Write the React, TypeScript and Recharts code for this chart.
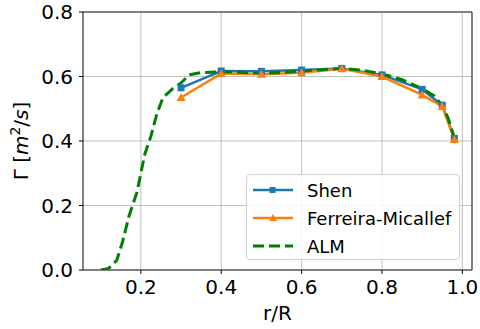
import {
  LineChart,
  Line,
  XAxis,
  YAxis,
  CartesianGrid,
  ReferenceArea,
  Legend,
} from "recharts";

const shenR = [0.3, 0.4, 0.5, 0.6, 0.7, 0.8, 0.9, 0.95, 0.98];
const shenGamma = [0.565, 0.617, 0.616, 0.62, 0.625, 0.605, 0.56, 0.511, 0.408];

const fmR = [0.3, 0.4, 0.5, 0.6, 0.7, 0.8, 0.9, 0.95, 0.98];
const fmGamma = [0.535, 0.609, 0.607, 0.612, 0.624, 0.6, 0.543, 0.507, 0.405];

const almR = [
  0.1, 0.12, 0.14, 0.155, 0.17, 0.19, 0.2, 0.21, 0.225, 0.24, 0.255, 0.28, 0.3,
  0.32, 0.35, 0.4, 0.45, 0.5, 0.55, 0.6, 0.65, 0.7, 0.75, 0.8, 0.85, 0.9, 0.93,
  0.95, 0.965, 0.98,
];
const almGamma = [
  0.0, 0.005, 0.03, 0.09, 0.165, 0.24, 0.3, 0.36, 0.415, 0.485, 0.535, 0.563,
  0.58, 0.605, 0.612, 0.615, 0.613, 0.61, 0.612, 0.617, 0.621, 0.625, 0.62,
  0.608, 0.59, 0.562, 0.54, 0.51, 0.47, 0.41,
];

const xTicks = [0.2, 0.4, 0.6, 0.8, 1.0];
const yTicks = [0.0, 0.2, 0.4, 0.6, 0.8];

const FONT = "DejaVu Sans";
const BLUE = "#1f77b4";
const ORANGE = "#ff7f0e";
const GREEN = "#008000";

const toPoints = (xs: number[], ys: number[]) =>
  xs.map((r, i) => ({ r, g: ys[i] }));

const SquareDot = (props: any) => {
  const { cx, cy, index } = props;
  if (cx == null || cy == null) return <g key={index} />;
  return <rect key={index} x={cx - 3.5} y={cy - 3.5} width={7} height={7} fill={BLUE} />;
};

const TriangleDot = (props: any) => {
  const { cx, cy, index } = props;
  if (cx == null || cy == null) return <g key={index} />;
  return (
    <polygon
      key={index}
      points={`${cx},${cy - 4.5} ${cx - 4.5},${cy + 3.5} ${cx + 4.5},${cy + 3.5}`}
      fill={ORANGE}
    />
  );
};

const legendItems = [
  { name: "Shen", color: BLUE, kind: "square" },
  { name: "Ferreira-Micallef", color: ORANGE, kind: "triangle" },
  { name: "ALM", color: GREEN, kind: "dash" },
];

const LegendBox = () => (
  <div
    style={{
      width: 214,
      height: 86,
      border: "1px solid #d0d0d0",
      borderRadius: 4,
      background: "rgba(255,255,255,0.85)",
      boxSizing: "border-box",
      paddingTop: 1,
      fontFamily: FONT,
      fontSize: 18,
      color: "#000",
    }}
  >
    {legendItems.map((it) => (
      <div
        key={it.name}
        style={{ height: 28, display: "flex", alignItems: "center" }}
      >
        <svg width={60} height={28} style={{ flex: "none" }}>
          {it.kind === "dash" ? (
            <line
              x1={6}
              x2={46}
              y1={14}
              y2={14}
              stroke={it.color}
              strokeWidth={3}
              strokeDasharray="11 5"
            />
          ) : (
            <line x1={6} x2={46} y1={14} y2={14} stroke={it.color} strokeWidth={2.5} />
          )}
          {it.kind === "square" && (
            <rect x={22.5} y={11} width={6} height={6} fill={it.color} />
          )}
          {it.kind === "triangle" && (
            <polygon points="26,10 22,17 30,17" fill={it.color} />
          )}
        </svg>
        <span style={{ whiteSpace: "nowrap" }}>{it.name}</span>
      </div>
    ))}
  </div>
);

const YLabel = () => (
  <text
    x={28}
    y={141}
    transform="rotate(-90, 28, 141)"
    textAnchor="middle"
    fontFamily={FONT}
    fontSize={20}
    fill="#000"
  >
    Γ [<tspan fontStyle="italic">m</tspan>
    <tspan dy={-8} fontSize={14}>2</tspan>
    <tspan dy={8}>/</tspan>
    <tspan fontStyle="italic">s</tspan>]
  </text>
);

const XLabel = (props: any) => {
  const { viewBox } = props;
  return (
    <text
      x={viewBox.x + viewBox.width / 2}
      y={viewBox.y + 50}
      textAnchor="middle"
      fontFamily={FONT}
      fontSize={20}
      fill="#000"
    >
      r/R
    </text>
  );
};

export default function App() {
  return (
    <div style={{ position: "absolute", left: 0, top: 0, background: "#fff" }}>
      <LineChart
        width={480}
        height={329}
        margin={{ top: 12, right: 8, bottom: 0, left: 0 }}
      >
        <CartesianGrid stroke="#b0b0b0" strokeWidth={0.8} />
        <XAxis
          type="number"
          dataKey="r"
          domain={[0.056, 1.024]}
          ticks={xTicks}
          tickFormatter={(v: number) => v.toFixed(1)}
          allowDataOverflow
          height={59}
          axisLine={false}
          tickLine={{ stroke: "#000" }}
          tickSize={4}
          tickMargin={6}
          tick={{ fontFamily: FONT, fontSize: 20, fill: "#000" }}
          label={<XLabel />}
        />
        <YAxis
          type="number"
          dataKey="g"
          domain={[0, 0.8]}
          ticks={yTicks}
          tickFormatter={(v: number) => v.toFixed(1)}
          allowDataOverflow
          width={83}
          axisLine={false}
          tickLine={{ stroke: "#000" }}
          tickSize={4}
          tickMargin={6}
          tick={{ fontFamily: FONT, fontSize: 20, fill: "#000" }}
          label={<YLabel />}
        />
        <ReferenceArea
          x1={0.056}
          x2={1.024}
          y1={0}
          y2={0.8}
          fill="none"
          stroke="#222"
          strokeWidth={1}
        />
        <Line
          data={toPoints(shenR, shenGamma)}
          dataKey="g"
          name="Shen"
          stroke={BLUE}
          strokeWidth={2.5}
          dot={<SquareDot />}
          activeDot={false}
          isAnimationActive={false}
        />
        <Line
          data={toPoints(fmR, fmGamma)}
          dataKey="g"
          name="Ferreira-Micallef"
          stroke={ORANGE}
          strokeWidth={2.5}
          dot={<TriangleDot />}
          activeDot={false}
          isAnimationActive={false}
        />
        <Line
          data={toPoints(almR, almGamma)}
          dataKey="g"
          name="ALM"
          stroke={GREEN}
          strokeWidth={3}
          strokeDasharray="11 5"
          dot={false}
          activeDot={false}
          isAnimationActive={false}
        />
        <Legend
          layout="vertical"
          align="center"
          verticalAlign="middle"
          content={<LegendBox />}
          wrapperStyle={{ position: "absolute", left: 246, top: 174, width: 214 }}
        />
      </LineChart>
    </div>
  );
}
